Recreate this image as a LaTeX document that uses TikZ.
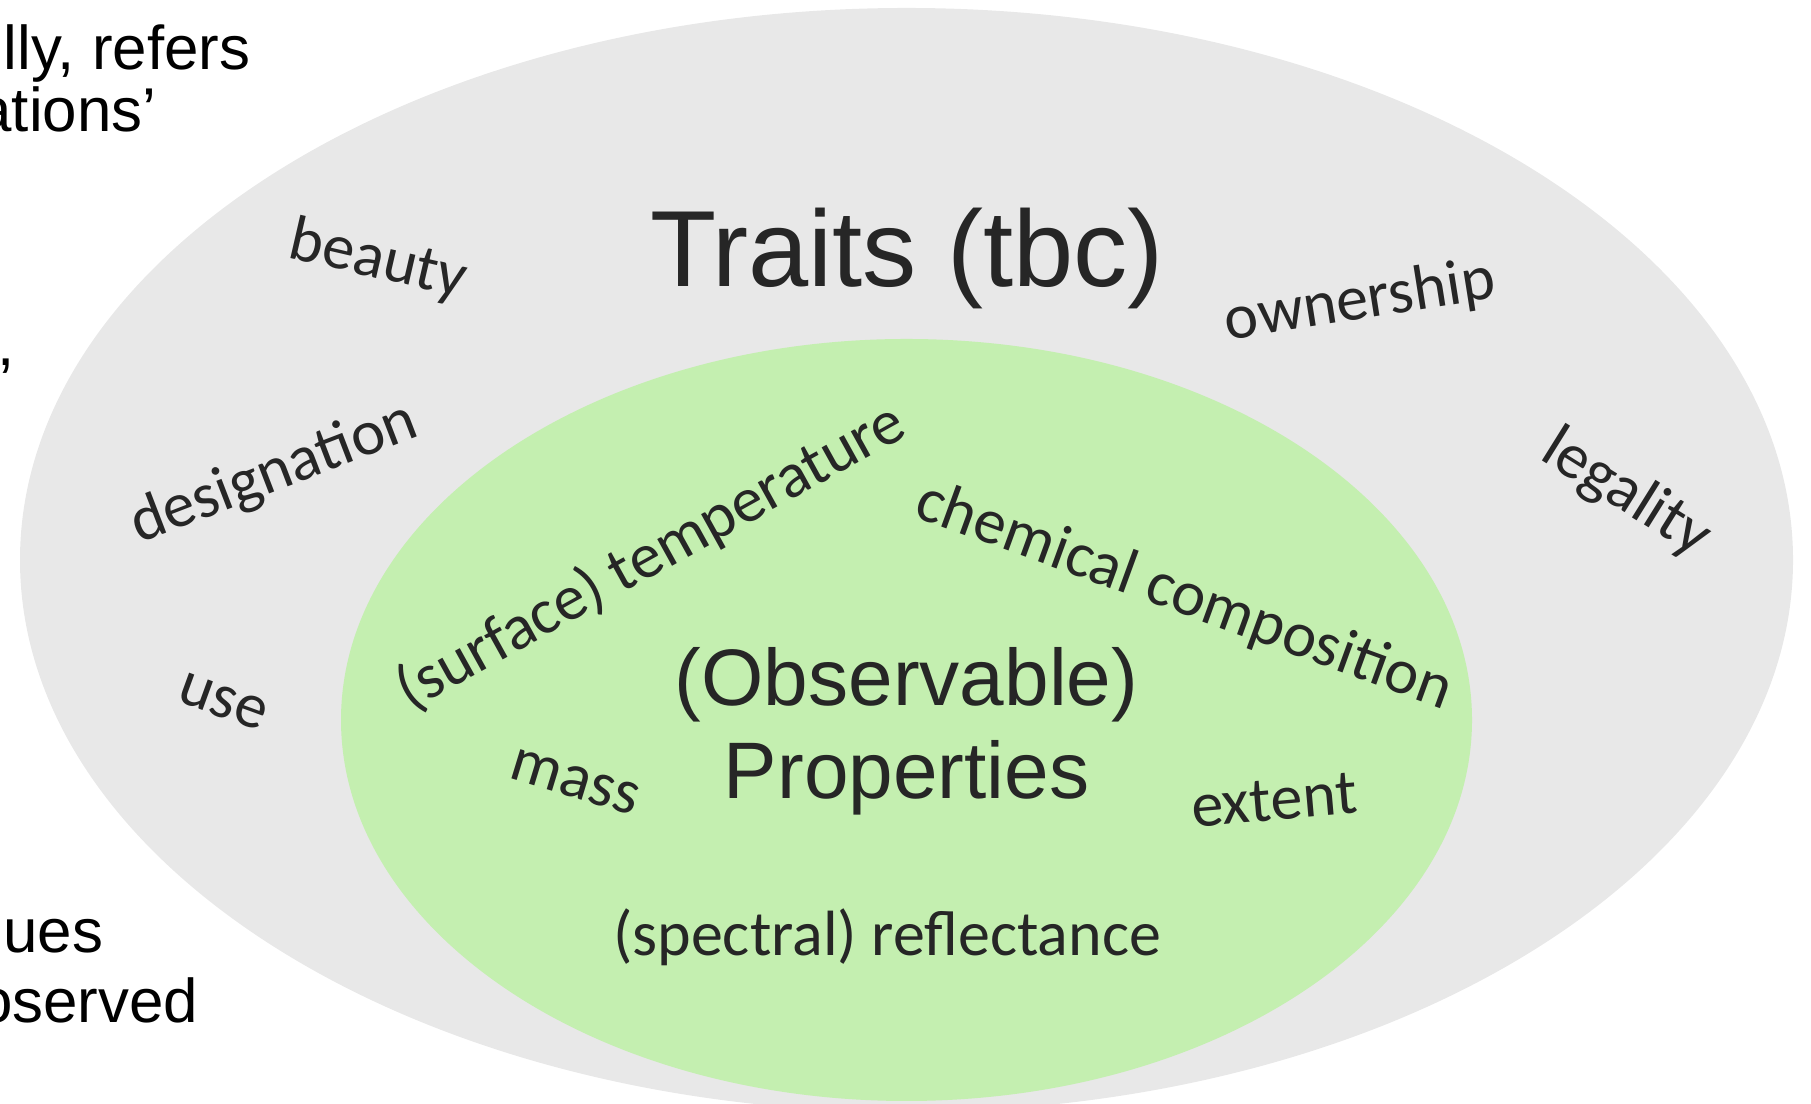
\documentclass[tikz,border=0pt]{standalone}
\usepackage{fontspec}
\setmainfont{Liberation Sans}
\newfontfamily\calibrifont{Carlito}
\definecolor{traitgrey}{RGB}{232,232,232}
\definecolor{propgreen}{RGB}{196,239,176}
\definecolor{textdark}{RGB}{38,38,38}
\begin{document}
\begin{tikzpicture}
    % Define styles
    \tikzset{
        word/.style={
            font=\calibrifont\fontsize{18.2pt}{22pt}\selectfont,
            text=textdark,
            inner sep=0pt
        },
        heading/.style={
            text=textdark,
            inner sep=0pt
        },
        slidetext/.style={
            font=\fontsize{17.6pt}{21pt}\selectfont,
            anchor=base east,
            inner sep=0pt
        }
    }

    % Frame
    \useasboundingbox (0,0) rectangle (18.11,11.04);
    \clip (0,0) rectangle (18.11,11.04);

    % Ellipses
    \fill[traitgrey] (9.065,5.44) ellipse [x radius=8.865, y radius=5.52];
    \fill[propgreen] (9.065,3.84) ellipse [x radius=5.655, y radius=3.81];

    % Cut-off slide text on the left
    \node[slidetext] (txtA) at (2.51,10.34) {lly, refers};
    \node[slidetext] (txtB) at (1.57,9.72) {ations’};
    \node[slidetext] (txtC) at (0.15,7.38) {,};
    \node[slidetext] (txtD) at (1.04,1.51) {ues};
    \node[slidetext] (txtE) at (1.99,0.81) {oserved};

    % Headings
    \node[heading, anchor=base, font=\fontsize{30.8pt}{36pt}\selectfont] (traits) at (9.07,8.17) {Traits (tbc)};
    \node[heading, align=center, font=\fontsize{22.8pt}{26.5pt}\selectfont] (props) at (9.065,3.73) {(Observable)\\Properties};

    % Traits
    \node[word, rotate=-13] (beauty) at (3.78,8.43) {beauty};
    \node[word, rotate=9] (owner) at (13.60,8.02) {ownership};
    \node[word, rotate=21] (design) at (2.74,6.30) {designation};
    \node[word, rotate=-32] (legal) at (16.26,6.10) {legality};
    \node[word, rotate=-20] (use) at (2.23,4.02) {use};

    % Properties
    \node[word, rotate=29] (temp) at (6.51,5.47) {(surface) temperature};
    \node[word, rotate=-20] (chem) at (11.84,5.07) {chemical composition};
    \node[word, rotate=-17] (mass) at (5.75,3.22) {mass};
    \node[word, rotate=5] (extent) at (12.74,3.04) {extent};
    \node[word] (refl) at (8.87,1.67) {(spectral) reflectance};

\end{tikzpicture}
\end{document}
